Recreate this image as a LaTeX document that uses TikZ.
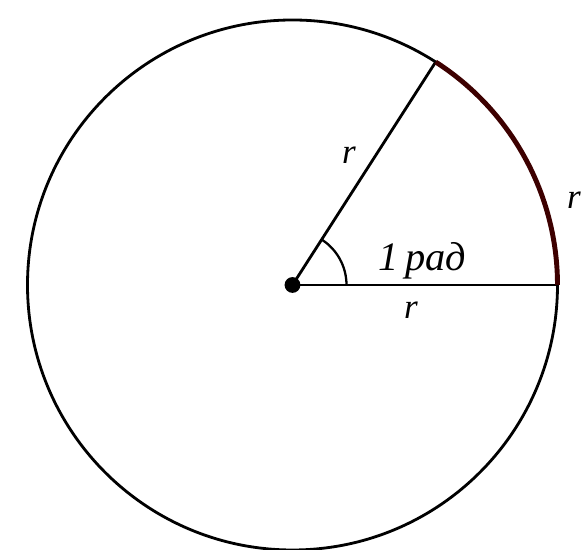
\documentclass[tikz,border=0pt]{standalone}
\usepackage{fontspec}
\setmainfont{Liberation Serif}
\usetikzlibrary{calc}

\begin{document}
\begin{tikzpicture}[
  x=0.02cm, y=0.02cm,
  font=\fontsize{20}{24}\selectfont\itshape,
  rdline/.style={draw=black, line width=1.6pt},
  rdarc/.style={draw=black!70!red!80!black, line width=2.8pt},
  lab/.style={inner sep=1pt}
]
\useasboundingbox (0,0) rectangle (583,550);

%--------------------------------------------------------------
% Cerchio e raggi
%--------------------------------------------------------------
\coordinate (O) at (292.5,265);
\coordinate (A) at ($(O)+(57.3:265)$);
\coordinate (B) at ($(O)+(0:265)$);

\draw[rdline] (O) circle (265);
\draw[rdline] (O) -- (A);
\draw[rdline] (O) -- (B);

% arco lungo quanto il raggio
\draw[rdarc] (B) arc[start angle=0, end angle=57.3, radius=265];

% angolo di un radiante
\draw[rdline, line width=1.3pt] ($(O)+(0:54)$) arc[start angle=0, end angle=57.3, radius=54];
\node[circle, fill=black, inner sep=0pt, minimum size=9pt] (dot) at (O) {};

%--------------------------------------------------------------
% Etichette
%--------------------------------------------------------------
\node[lab] (rOA) at (349,395) {r};
\node[lab] (rarc) at (574,350) {r};
\node[lab] (rOB) at (411,240) {r};
\node[lab, font=\fontsize{23}{27}\selectfont\itshape] (rad) at (422,289) {1\,рад};

\end{tikzpicture}
\end{document}
